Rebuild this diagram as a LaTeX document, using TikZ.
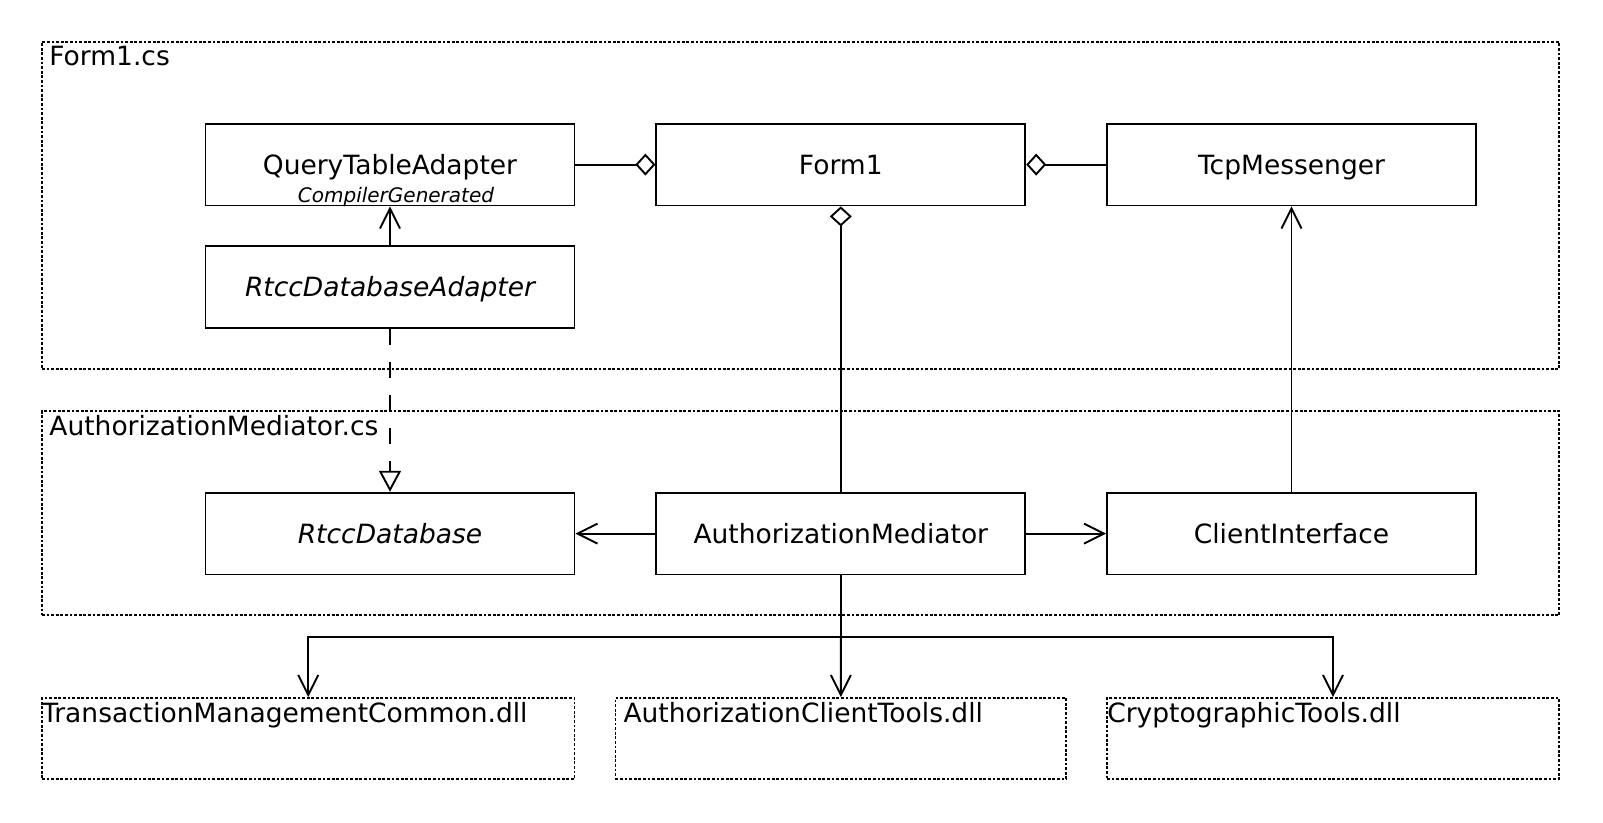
\documentclass[tikz,border=0pt]{standalone}
\usepackage{fontspec}
\setmainfont{DejaVu Sans}
\usetikzlibrary{arrows.meta}
\tikzset{
  x=0.5pt, y=-0.5pt,
  cls/.style={draw, line width=0.9pt, minimum width=184.5pt, minimum height=40.9pt, inner sep=0pt, text height=9.7pt, text depth=0pt, font=\fontsize{13.25}{15}\selectfont},
  pkgframe/.style={draw, line width=0.9pt, dash pattern=on 1.4pt off 0.9pt, inner sep=0pt},
  pkglabel/.style={anchor=north west, inner ysep=2.5pt, inner xsep=4pt, font=\fontsize{13.25}{15}\selectfont},
  dlllabel/.style={anchor=north west, inner ysep=2.2pt, font=\fontsize{13.25}{15}\selectfont},
  conn/.style={line width=0.95pt},
  barb/.style={conn, -{Straight Barb[length=10pt,width=10pt,line width=0.95pt]}},
  aggr/.style={conn, -{Diamond[open,length=10pt,width=11pt,line width=0.95pt]}},
  realize/.style={conn, dash pattern=on 8pt off 8.5pt, -{Triangle[open,length=10.5pt,width=11pt,line width=0.95pt]}},
}
\begin{document}
\begin{tikzpicture}
\useasboundingbox (0,0) rectangle (1603,823);
% package frames
\node[pkgframe, minimum width=758.55pt, minimum height=163.55pt] (f1cs) at (800.45,205.45) {};
\node[pkglabel] (f1cslbl) at (f1cs.north west) {Form1.cs};
\node[pkgframe, minimum width=758.55pt, minimum height=102.2pt] (amcs) at (800.45,513.2) {};
\node[pkglabel] (amcslbl) at (amcs.north west) {AuthorizationMediator.cs};
% dll frames
\node[pkgframe, minimum width=266.3pt, minimum height=40.5pt] (tmc) at (308.2,738.5) {};
\node[dlllabel, inner xsep=0.3pt] (tmclbl) at (tmc.north west) {TransactionManagementCommon.dll};
\node[pkgframe, minimum width=225.45pt, minimum height=40.5pt] (act) at (840.85,738.5) {};
\node[dlllabel, inner xsep=4.3pt] (actlbl) at (act.north west) {AuthorizationClientTools.dll};
\node[pkgframe, minimum width=226pt, minimum height=40.5pt] (crt) at (1333,738.5) {};
\node[dlllabel, inner xsep=0.4pt] (crtlbl) at (crt.north west) {CryptographicTools.dll};
% classes
\node[cls] (qta) at (390,164.6) {};
\node[inner sep=0pt, text height=9.7pt, text depth=0pt, font=\fontsize{13.25}{15}\selectfont] (qtaname) at (390,164.6) {QueryTableAdapter};
\node[anchor=base, inner sep=0pt, font=\fontsize{10}{12}\selectfont\itshape] (qtast) at (396,202.5) {CompilerGenerated};
\node[cls] (form1) at (840.8,164.6) {Form1};
\node[cls] (tcp) at (1291.5,164.6) {TcpMessenger};
\node[cls, font=\fontsize{13.25}{15}\selectfont\itshape] (rda) at (390,287.3) {RtccDatabaseAdapter};
\node[cls, font=\fontsize{13.25}{15}\selectfont\itshape] (rd) at (390,533.6) {RtccDatabase};
\node[cls] (am) at (840.8,533.6) {AuthorizationMediator};
\node[cls] (ci) at (1291.5,533.6) {ClientInterface};
% connectors
\draw[aggr] (qta.east) -- (form1.west);
\draw[aggr] (tcp.west) -- (form1.east);
\draw[aggr] (am.north) -- (form1.south);
\draw[barb] (rda.north) -- (qta.south);
\draw[realize] (rda.south) -- (rd.north);
\draw[barb] (am.west) -- (rd.east);
\draw[barb] (am.east) -- (ci.west);
\draw[barb] (ci.north) -- (tcp.south);
\coordinate (bus) at (840.8,637);
\draw[conn] (am.south) -- (bus);
\draw[barb] (bus) -| (tmc.north);
\draw[barb] (bus) -- (act.north);
\draw[barb] (bus) -| (crt.north);
\end{tikzpicture}
\end{document}
